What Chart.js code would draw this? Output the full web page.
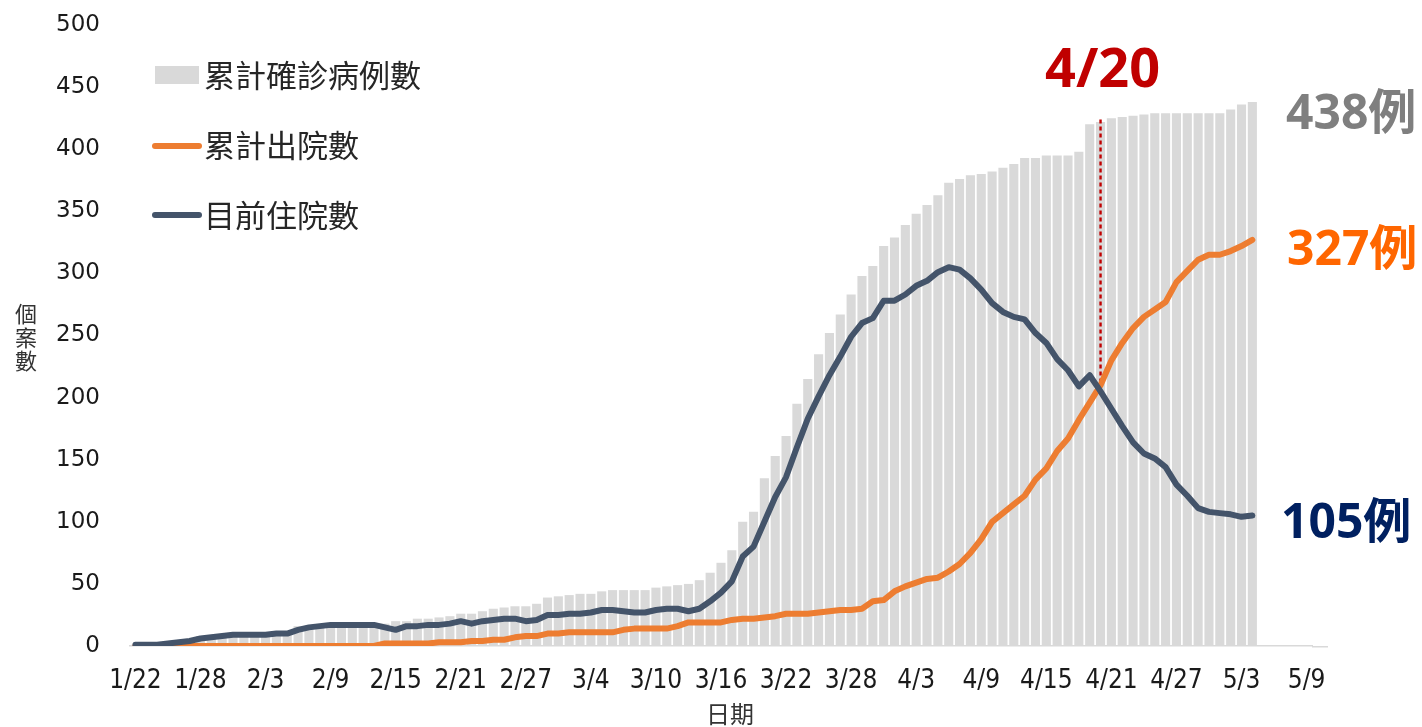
<!DOCTYPE html>
<html>
<head>
<meta charset="utf-8">
<script src="https://cdn.jsdelivr.net/npm/chart.js@4.4.1/dist/chart.umd.min.js"></script>
<style>
html,body{margin:0;padding:0;background:#fff;}
#wrap{position:relative;width:1422px;height:727px;}
canvas{display:block;}
</style>
</head>
<body>
<div id="wrap"><canvas id="c" width="1422" height="727"></canvas></div>
<script>
// ---- categories (dates) ----
const dates = [
 '1/22','1/23','1/24','1/25','1/26','1/27','1/28','1/29','1/30','1/31',
 '2/1','2/2','2/3','2/4','2/5','2/6','2/7','2/8','2/9','2/10','2/11','2/12','2/13','2/14','2/15',
 '2/16','2/17','2/18','2/19','2/20','2/21','2/22','2/23','2/24','2/25','2/26','2/27','2/28','2/29',
 '3/1','3/2','3/3','3/4','3/5','3/6','3/7','3/8','3/9','3/10','3/11','3/12','3/13','3/14','3/15',
 '3/16','3/17','3/18','3/19','3/20','3/21','3/22','3/23','3/24','3/25','3/26','3/27','3/28','3/29','3/30','3/31',
 '4/1','4/2','4/3','4/4','4/5','4/6','4/7','4/8','4/9','4/10','4/11','4/12','4/13','4/14','4/15',
 '4/16','4/17','4/18','4/19','4/20','4/21','4/22','4/23','4/24','4/25','4/26','4/27','4/28','4/29','4/30',
 '5/1','5/2','5/3','5/4','5/5','5/6','5/7','5/8','5/9'
];
// tick labels shown on the x axis
const xTickLabels = ['1/22','1/28','2/3','2/9','2/15','2/21','2/27','3/4','3/10','3/16','3/22','3/28','4/3','4/9','4/15','4/21','4/27','5/3','5/9'];

// ---- series ----
const seriesNames = ['累計確診病例數','累計出院數','目前住院數'];
const confirmed = [
 1,1,3,3,4,5,8,8,9,10,
 10,10,10,11,11,16,16,17,18,18,18,18,18,18,20,20,22,22,23,24,26,26,28,30,31,32,32,34,39,
 40,41,42,42,44,45,45,45,45,47,48,49,50,53,59,67,77,100,108,135,153,169,195,215,235,252,267,283,298,306,322,
 329,339,348,355,363,373,376,379,380,382,385,388,393,393,395,395,395,398,420,422,425,426,427,428,429,429,429,429,429,429,
 429,432,436,438
];
const discharged = [
 0,0,0,0,0,0,0,0,0,0,
 0,0,0,0,0,0,0,0,0,0,
 0,0,0,2,2,2,2,2,3,3,
 3,4,4,5,5,7,8,8,10,10,
 11,11,11,11,11,13,14,14,14,14,
 16,19,19,19,19,21,22,22,23,24,
 26,26,26,27,28,29,29,30,36,37,
 44,48,51,54,55,60,66,75,86,100,
 107,114,121,134,143,157,167,182,196,210,
 230,244,256,265,271,277,293,302,311,315,
 315,318,322,327
];
const hospitalized = [
 1,1,1,2,3,4,6,7,8,9,
 9,9,9,10,10,13,15,16,17,17,
 17,17,17,15,13,16,16,17,17,18,
 20,18,20,21,22,22,20,21,25,25,
 26,26,27,29,29,28,27,27,29,30,
 30,28,30,36,43,52,72,80,100,120,
 136,160,183,201,218,233,249,260,264,278,
 278,283,290,294,301,305,303,296,287,276,
 269,265,263,252,244,231,222,209,218,205,
 191,177,164,155,151,144,130,121,111,108,
 107,106,104,105
];
const yTicks = [0,50,100,150,200,250,300,350,400,450,500];
const markerDate = '4/20';
const unitText = '例';

const COLORS = { bar:'#D9D9D9', orange:'#ED7D31', navy:'#44546A' };

const overlay = {
  id:'overlay',
  afterDatasetDraw(chart, args){
    if (args.index !== 2) return; // after bars, before lines
    const x = chart.scales.x, y = chart.scales.y, ctx = chart.ctx;
    const i = dates.indexOf(markerDate);
    const px = x.getPixelForValue(i);
    ctx.save();
    ctx.strokeStyle = '#C00000';
    ctx.lineWidth = 2.4;
    ctx.setLineDash([4,3]);
    ctx.beginPath();
    ctx.moveTo(px, y.getPixelForValue(424));
    ctx.lineTo(px, y.getPixelForValue(discharged[i]));
    ctx.stroke();
    ctx.restore();
  },
  afterDraw(chart){
    const ctx = chart.ctx, x = chart.scales.x, y = chart.scales.y;
    const area = chart.chartArea;
    ctx.save();
    // axis line continues a little past the last category
    ctx.strokeStyle = '#D9D9D9';
    ctx.lineWidth = 1.5;
    ctx.beginPath(); ctx.moveTo(area.right, area.bottom + 0.75); ctx.lineTo(1328, area.bottom + 0.75); ctx.stroke();

    // legend
    ctx.fillStyle = COLORS.bar;
    ctx.fillRect(155, 66, 44, 18);
    ctx.lineCap = 'round';
    ctx.lineWidth = 6;
    ctx.strokeStyle = COLORS.orange;
    ctx.beginPath(); ctx.moveTo(155,146); ctx.lineTo(199,146); ctx.stroke();
    ctx.strokeStyle = COLORS.navy;
    ctx.beginPath(); ctx.moveTo(155,215); ctx.lineTo(199,215); ctx.stroke();
    ctx.fillStyle = '#262626';
    ctx.font = '31px "Noto Sans CJK TC", sans-serif';
    ctx.textAlign = 'left';
    ctx.textBaseline = 'middle';
    ctx.fillText(seriesNames[0], 204, 75);
    ctx.fillText(seriesNames[1], 204, 145);
    ctx.fillText(seriesNames[2], 204, 215);

    // y axis title (stacked characters)
    ctx.fillStyle = '#333333';
    ctx.font = '22px "Noto Sans CJK TC", sans-serif';
    ctx.textAlign = 'center';
    const yt = '個案數';
    for (let k=0;k<yt.length;k++) ctx.fillText(yt[k], 26, 314 + k*23.5);
    // x axis title
    ctx.font = '24px "Noto Sans CJK TC", sans-serif';
    ctx.fillText('日期', 730, 714);

    // date marker text
    const i = dates.indexOf(markerDate);
    const px = x.getPixelForValue(i);
    ctx.fillStyle = '#C00000';
    ctx.font = 'bold 54px "Noto Sans", "Noto Sans CJK TC", sans-serif';
    ctx.textAlign = 'center';
    ctx.textBaseline = 'alphabetic';
    ctx.fillText(markerDate, px + 2, 87);

    // end values
    const last = confirmed.length - 1;
    ctx.textAlign = 'left';
    ctx.font = 'bold 48px "Noto Sans", "Noto Sans CJK TC", sans-serif';
    ctx.fillStyle = '#7F7F7F';
    ctx.fillText(confirmed[last] + unitText, 1286, 129);
    ctx.fillStyle = '#FF6600';
    ctx.fillText(discharged[last] + unitText, 1287, 265);
    ctx.fillStyle = '#002060';
    ctx.fillText(hospitalized[last] + unitText, 1281, 538);
    ctx.restore();
  }
};

new Chart(document.getElementById('c').getContext('2d'), {
  data: {
    labels: dates,
    datasets: [
      { type:'line', label: seriesNames[2], data: hospitalized, borderColor: COLORS.navy, backgroundColor: COLORS.navy,
        borderWidth: 6, pointRadius: 0, tension: 0, borderCapStyle:'round', borderJoinStyle:'round', order: 1 },
      { type:'line', label: seriesNames[1], data: discharged, borderColor: COLORS.orange, backgroundColor: COLORS.orange,
        borderWidth: 6, pointRadius: 0, tension: 0, borderCapStyle:'round', borderJoinStyle:'round', order: 2 },
      { type:'bar', label: seriesNames[0], data: confirmed, backgroundColor: COLORS.bar,
        barPercentage: 0.84, categoryPercentage: 1.0, order: 3 }
    ]
  },
  options: {
    responsive: false,
    animation: false,
    devicePixelRatio: 1,
    layout: { padding: { left: 0, right: 110, top: 25, bottom: 0 } },
    plugins: { legend: { display: false }, tooltip: { enabled: false } },
    scales: {
      x: {
        type: 'category',
        offset: true,
        grid: { display: false, drawTicks: false },
        border: { display: true, color: '#D9D9D9', width: 1.5 },
        ticks: {
          autoSkip: false, maxRotation: 0, minRotation: 0, padding: 20,
          color: '#1a1a1a',
          font: { family: '"Liberation Sans Narrow", "DejaVu Sans Condensed", sans-serif', size: 26 },
          callback: function(v, i){ const l = dates[i]; return xTickLabels.includes(l) ? l : ''; }
        },
        afterFit: s => { s.height = 81; }
      },
      y: {
        min: 0, max: 500,
        grid: { display: false, drawTicks: false },
        border: { display: false },
        afterBuildTicks: s => { s.ticks = yTicks.map(v => ({ value: v })); },
        ticks: { padding: 30, color: '#1a1a1a', font: { family: '"DejaVu Sans", sans-serif', size: 23 } },
        afterFit: s => { s.width = 130; s.paddingTop = 0; s.paddingBottom = 0; }
      }
    }
  },
  plugins: [overlay]
});
</script>
</body>
</html>
